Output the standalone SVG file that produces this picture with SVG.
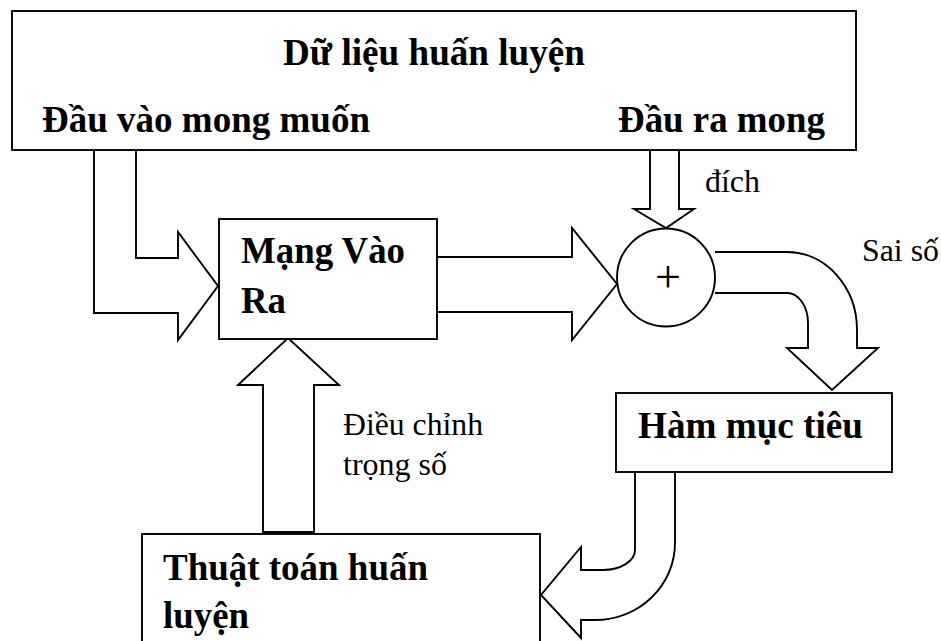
<svg xmlns="http://www.w3.org/2000/svg" width="941" height="641" viewBox="0 0 941 641">
<style>
.box{fill:#fff;stroke:#000;stroke-width:1.9}
.arr{fill:#fff;stroke:#000;stroke-width:1.9;stroke-linejoin:miter}
.b{font-family:"Liberation Serif","Times New Roman",serif;font-weight:bold;font-size:37px;fill:#000}
.r{font-family:"Liberation Serif","Times New Roman",serif;font-size:32px;fill:#000}
</style>
<rect width="941" height="641" fill="#fff"/>
<g id="connectors">
<path class="arr" d="M94,150 V313 H178 V340 L218,286 L178,232 V258 H136 V150"/>
<path class="arr" d="M650,150 V209 H634 L666,228 L694,209 H679 V150"/>
<path class="arr" d="M437,257 H572 V228 L617,284 L572,340 V312 H437"/>
<path class="arr" d="M715,252 H787 A70,78 0 0 1 857,330 V348 H878 L832,390 L787,348 H808 V323 A21,30 0 0 0 787,293 H715"/>
<path class="arr" d="M635,472 V550 A32,20 0 0 1 603,570 H581 V547 L541,595 L581,638 V620 H595 A80,77 0 0 0 675,543 V472"/>
<path class="arr" d="M263,532 V385 H238 L288,338 L339,385 H314 V532 Z"/>
</g>
<g id="du-lieu">
<rect class="box" x="12" y="11" width="844" height="139"/>
<text class="b" x="283" y="65" textLength="302" lengthAdjust="spacingAndGlyphs">Dữ liệu huấn luyện</text>
<text class="b" x="42" y="132" textLength="328" lengthAdjust="spacingAndGlyphs">Đầu vào mong muốn</text>
<text class="b" x="618" y="132" textLength="207" lengthAdjust="spacingAndGlyphs">Đầu ra mong</text>
</g>
<g id="mang">
<rect class="box" x="219" y="219" width="218" height="120"/>
<text class="b" x="241" y="263" textLength="164" lengthAdjust="spacingAndGlyphs">Mạng Vào</text>
<text class="b" x="241" y="313" textLength="45" lengthAdjust="spacingAndGlyphs">Ra</text>
</g>
<g id="tong">
<circle class="box" cx="666" cy="277.5" r="49"/>
<text class="r" x="668" y="292" text-anchor="middle" style="font-size:46px">+</text>
</g>
<g id="ham">
<rect class="box" x="616" y="393" width="276" height="79"/>
<text class="b" x="638" y="438" textLength="225" lengthAdjust="spacingAndGlyphs">Hàm mục tiêu</text>
</g>
<g id="thuat-toan">
<rect class="box" x="142" y="534" width="398" height="130"/>
<text class="b" x="163" y="580" textLength="265" lengthAdjust="spacingAndGlyphs">Thuật toán huấn</text>
<text class="b" x="163" y="628" textLength="86" lengthAdjust="spacingAndGlyphs">luyện</text>
</g>
<g id="labels">
<text class="r" x="705" y="192" textLength="55" lengthAdjust="spacingAndGlyphs">đích</text>
<text class="r" x="862" y="261" textLength="77" lengthAdjust="spacingAndGlyphs">Sai số</text>
<text class="r" x="343" y="435" textLength="140" lengthAdjust="spacingAndGlyphs">Điều chỉnh</text>
<text class="r" x="343" y="475" textLength="104" lengthAdjust="spacingAndGlyphs">trọng số</text>
</g>
</svg>
